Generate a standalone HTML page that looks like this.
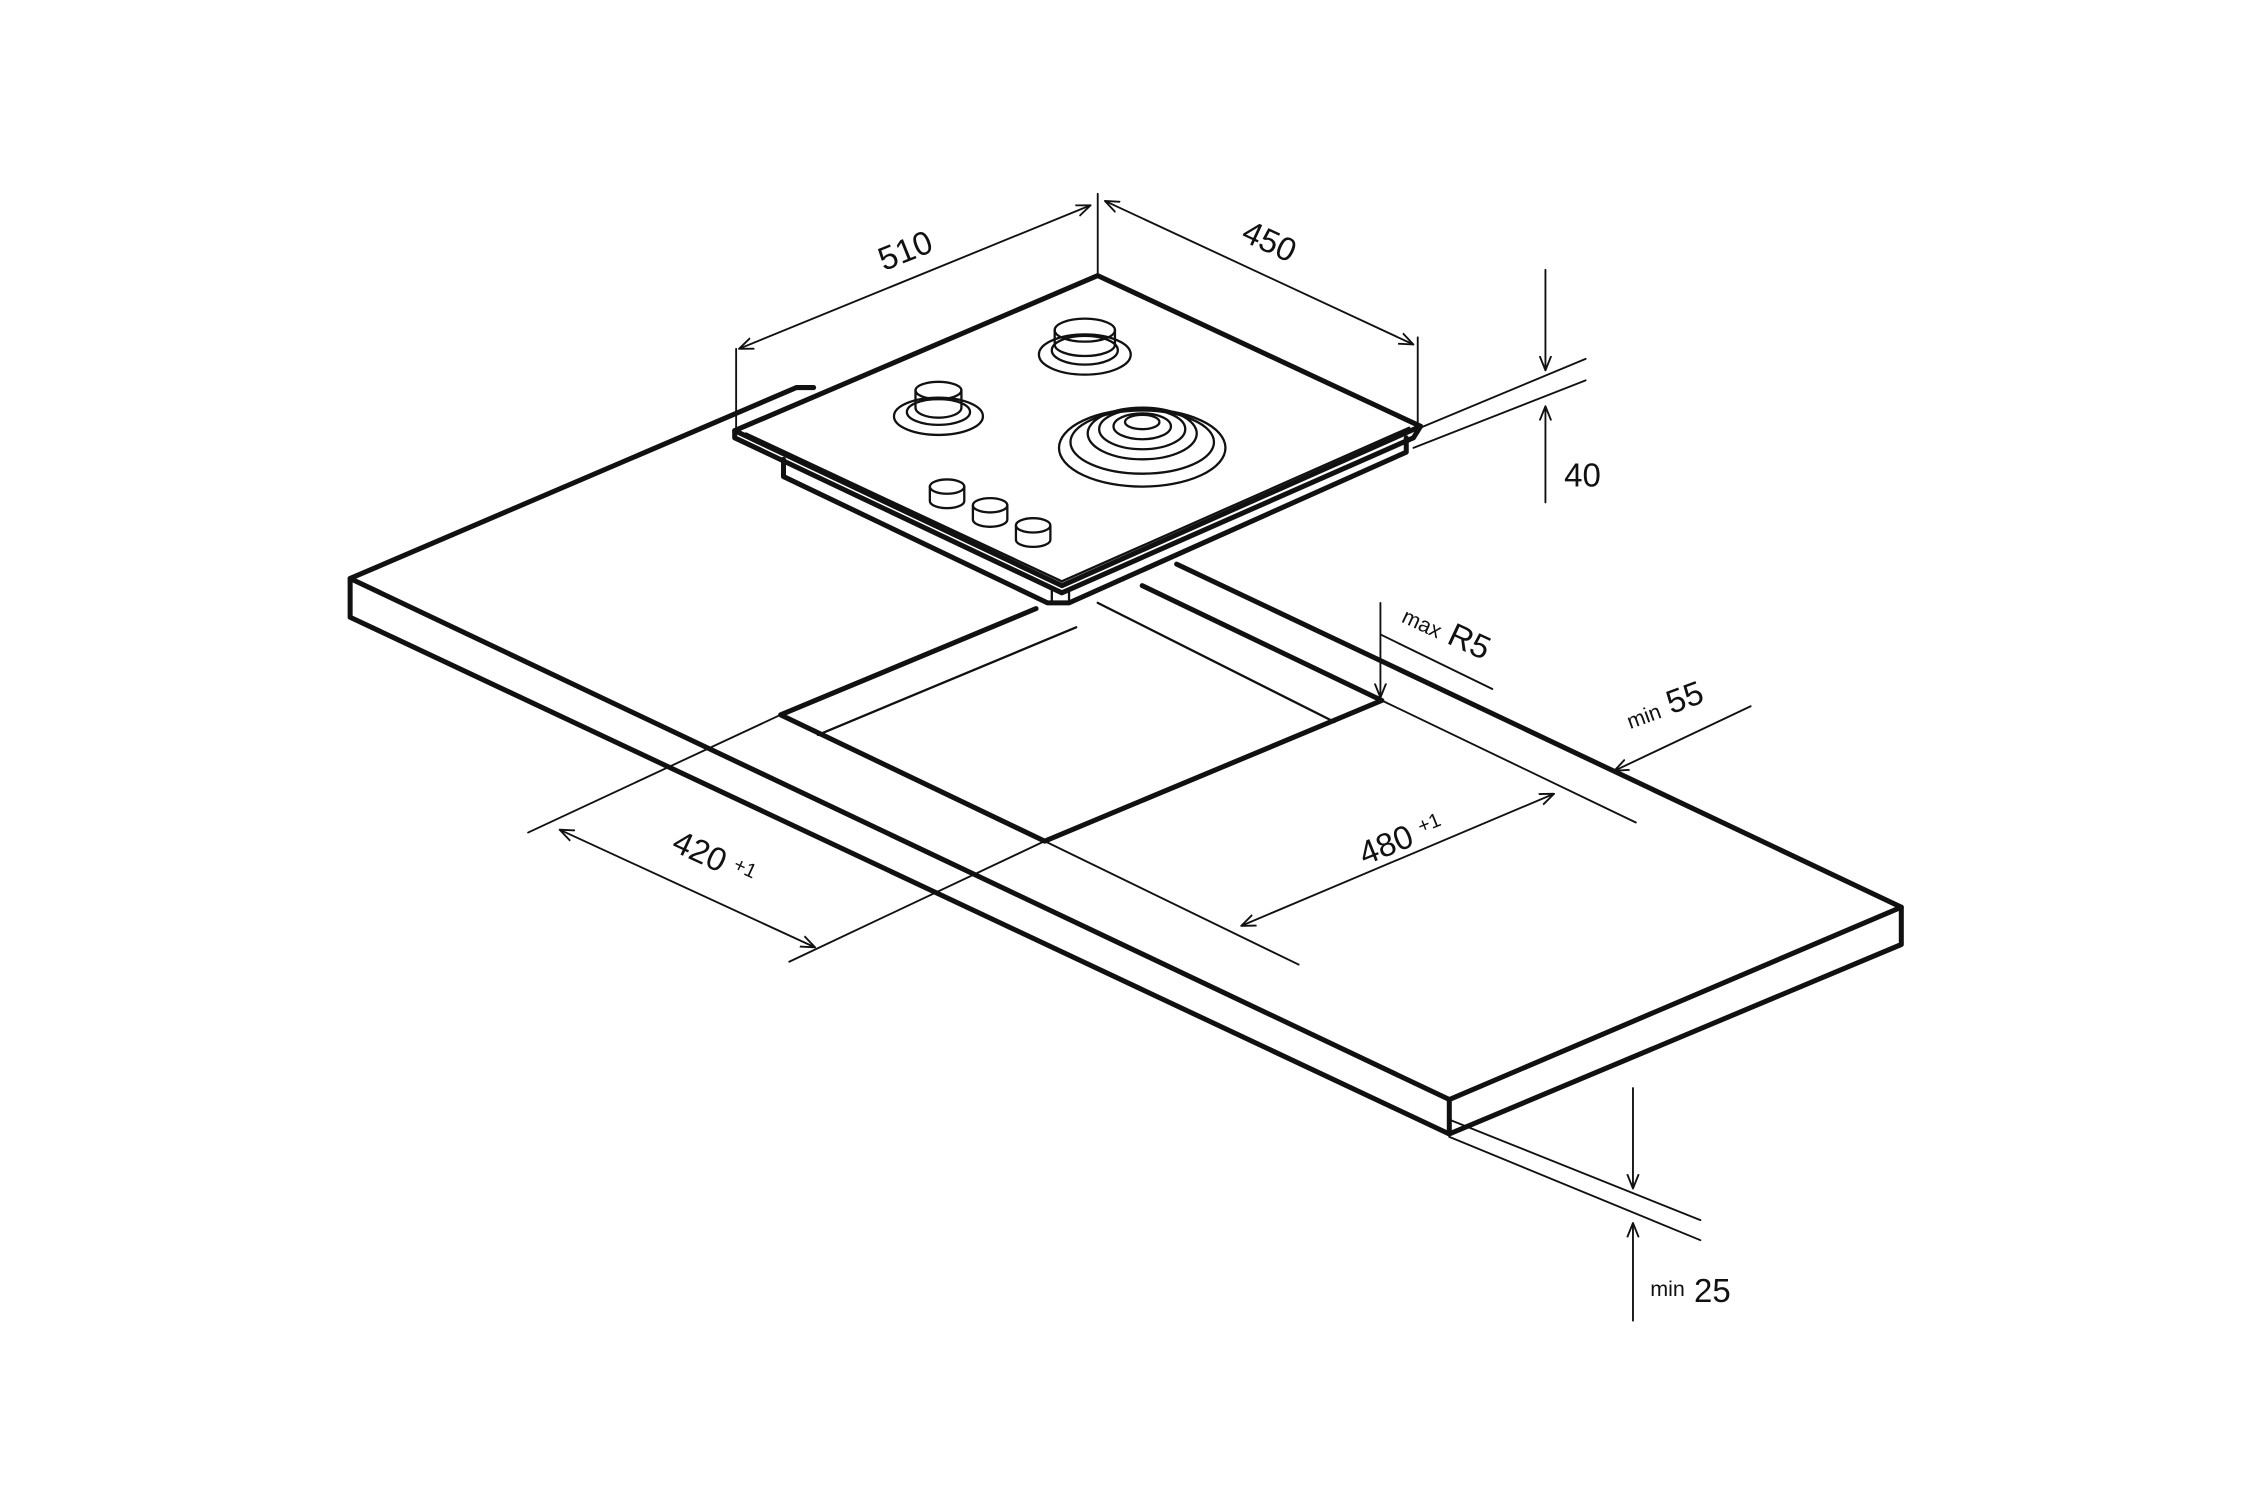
<!DOCTYPE html>
<html><head><meta charset="utf-8"><style>
html,body{margin:0;padding:0;background:#fff;}
svg{display:block;}
text{font-family:"Liberation Sans",sans-serif;fill:#111;}
</style></head><body>
<svg width="2250" height="1500" viewBox="0 0 1568 1045" preserveAspectRatio="none" xmlns="http://www.w3.org/2000/svg">
<defs>
<marker id="a" viewBox="0 0 10 10" refX="10" refY="5" markerWidth="10" markerHeight="10" orient="auto-start-reverse" markerUnits="userSpaceOnUse">
<path d="M0,1 L10,5 L0,9" fill="none" stroke="#111" stroke-width="1.3"/></marker>
</defs>
<rect width="1568" height="1045" fill="#fff"/>
<g fill="none" stroke="#111" stroke-linejoin="round" stroke-linecap="round">
<g stroke-width="3.5">
<path d="M567,270 L555,270 L244,403 L1010,766 L1325,632 L820,393"/>
<path d="M244,403 L244,430 L1010,790 L1325,658 L1325,632"/>
<path d="M1010,766 L1010,790"/>
<path d="M722,424 L544,498 L728,586 L963,488 L796,408"/>
</g>
<path d="M570,512 L750,437 M930,503 L765,420" stroke-width="1.6"/>
<g stroke-width="3.5">
<path d="M512,300 L765,192 L990,297 L740,408 Z"/>
<path d="M512,300 L512,305 L740,413 L985,305 L990,297"/>
<path d="M546,320 L546,332 L730,420 L745,420 L980,315 L980,305"/>
</g>
<g stroke-width="1.6">
<path d="M520,302 L740,405 L982,298"/>
<path d="M733,410 L733,420 M745,410 L745,420"/>
<ellipse cx="654" cy="290" rx="31" ry="13"/>
<ellipse cx="654" cy="287" rx="22" ry="9"/>
<path d="M638,272 L638,284 A16,7 0 0 0 670,284 L670,272"/>
<ellipse cx="654" cy="272" rx="16" ry="6"/>
<ellipse cx="756" cy="247" rx="32" ry="14"/>
<ellipse cx="756" cy="244" rx="23" ry="10"/>
<path d="M735,230 L735,240 A21,8 0 0 0 777,240 L777,230"/>
<ellipse cx="756" cy="230" rx="21" ry="8"/>
<ellipse cx="796" cy="312" rx="58" ry="27"/>
<ellipse cx="796" cy="308" rx="50" ry="22"/>
<ellipse cx="796" cy="302" rx="38" ry="18"/>
<ellipse cx="796" cy="299" rx="30" ry="14"/>
<ellipse cx="796" cy="297" rx="20" ry="9"/>
<ellipse cx="796" cy="294" rx="12" ry="5"/>
<path d="M648,339 L648,349 A12,5 0 0 0 672,349 L672,339"/><ellipse cx="660" cy="339" rx="12" ry="5"/>
<path d="M678,352 L678,362 A12,5 0 0 0 702,362 L702,352"/><ellipse cx="690" cy="352" rx="12" ry="5"/>
<path d="M708,366 L708,376 A12,5 0 0 0 732,376 L732,366"/><ellipse cx="720" cy="366" rx="12" ry="5"/>
</g>
<g stroke-width="1.3">
<path d="M513,243 L513,300 M765,135 L765,192 M988,235 L988,297"/>
<path d="M515,243 L760,143" marker-start="url(#a)" marker-end="url(#a)"/>
<path d="M770,140 L985,240" marker-start="url(#a)" marker-end="url(#a)"/>
<path d="M985,300 L1105,250 M985,312 L1105,265"/>
<path d="M1077,188 L1077,258" marker-end="url(#a)"/>
<path d="M1077,350 L1077,283" marker-end="url(#a)"/>
<path d="M962,420 L962,486" marker-end="url(#a)"/>
<path d="M962,442 L1040,480"/>
<path d="M1220,492 L1125,537" marker-end="url(#a)"/>
<path d="M963,488 L1140,573 M728,586 L905,672"/>
<path d="M865,645 L1083,553" marker-start="url(#a)" marker-end="url(#a)"/>
<path d="M544,498 L368,580 M728,586 L550,670"/>
<path d="M390,578 L568,660" marker-start="url(#a)" marker-end="url(#a)"/>
<path d="M1010,780 L1185,850 M1010,792 L1185,864"/>
<path d="M1138,758 L1138,828" marker-end="url(#a)"/>
<path d="M1138,920 L1138,852" marker-end="url(#a)"/>
</g>
</g>
<g font-size="23">
<text x="0" y="0" transform="translate(616,189) rotate(-22)">510</text>
<text x="0" y="0" transform="translate(864,167) rotate(25)">450</text>
<text x="1090" y="339">40</text>
<text x="0" y="0" transform="translate(976,433) rotate(25)"><tspan font-size="15">max</tspan> R5</text>
<text x="0" y="0" transform="translate(1136,508) rotate(-20)"><tspan font-size="15">min</tspan> 55</text>
<text x="0" y="0" transform="translate(951,603) rotate(-22)">480 <tspan font-size="14" dy="-6">+1</tspan></text>
<text x="0" y="0" transform="translate(467,592) rotate(25)">420 <tspan font-size="14" dy="-6">+1</tspan></text>
<text x="1150" y="907"><tspan font-size="15" dy="-4">min</tspan> <tspan dy="4">25</tspan></text>
</g>
</svg>
</body></html>
